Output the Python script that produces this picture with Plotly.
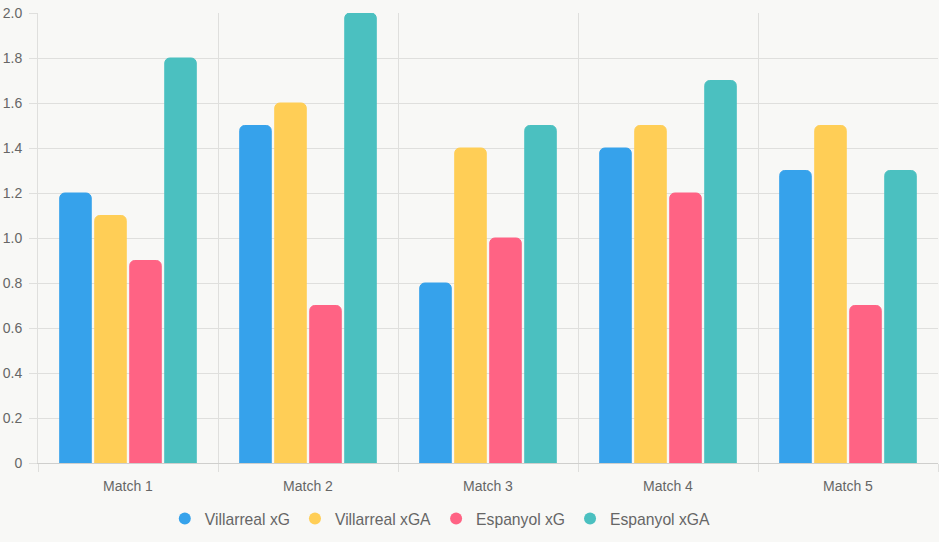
import plotly.graph_objects as go

categories = ["Match 1", "Match 2", "Match 3", "Match 4", "Match 5"]
villarreal_xg = [1.2, 1.5, 0.8, 1.4, 1.3]
villarreal_xga = [1.1, 1.6, 1.4, 1.5, 1.5]
espanyol_xg = [0.9, 0.7, 1.0, 1.2, 0.7]
espanyol_xga = [1.8, 2.0, 1.5, 1.7, 1.3]
series_names = ["Villarreal xG", "Villarreal xGA", "Espanyol xG", "Espanyol xGA"]
series_values = [villarreal_xg, villarreal_xga, espanyol_xg, espanyol_xga]
colors = ["#36A2EB", "#FFCE56", "#FF6384", "#4BC0C0"]
y_ticks = [0, 0.2, 0.4, 0.6, 0.8, 1.0, 1.2, 1.4, 1.6, 1.8, 2.0]
y_labels = ["0", "0.2", "0.4", "0.6", "0.8", "1.0", "1.2", "1.4", "1.6", "1.8", "2.0"]

bg = "#f8f8f6"
grid = "#dfdfdd"
font = "Liberation Sans, Arial, sans-serif"

fig = go.Figure()
for name, vals, c in zip(series_names, series_values, colors):
    fig.add_trace(go.Bar(
        x=categories, y=vals, name=name, showlegend=False, legendgroup=name,
        marker=dict(color=c, line=dict(color=c, width=1)),
        hovertemplate="%{x}<br>" + name + ": %{y}<extra></extra>",
    ))
# legend entries with circle symbols
for name, c in zip(series_names, colors):
    fig.add_trace(go.Scatter(
        x=[None], y=[None], mode="markers", name=name, legendgroup=name,
        marker=dict(symbol="circle", size=14, color=c),
        hoverinfo="skip",
    ))

fig.update_layout(
    width=939, height=542,
    margin=dict(l=38, r=1, t=13, b=79),
    paper_bgcolor=bg, plot_bgcolor=bg,
    barmode="group", bargap=0.222, bargroupgap=0.1,
    barcornerradius=5,
    font=dict(family=font, color="#666666", size=14),
    showlegend=True,
    legend=dict(orientation="h", x=0.447, xanchor="center", y=-0.124, yanchor="middle",
                font=dict(size=15.7, color="#666666"), itemsizing="constant",
                bgcolor="rgba(0,0,0,0)", tracegroupgap=0),
    xaxis=dict(
        type="category", tickson="boundaries", showgrid=True, gridcolor=grid, gridwidth=1,
        ticks="outside", ticklen=8, tickcolor=grid, ticklabelstandoff=10,
        showline=True, linecolor="#cfcfcd", linewidth=1,
        tickfont=dict(size=14, color="#666666"), fixedrange=True,
    ),
    yaxis=dict(
        range=[0, 2.0], tickvals=y_ticks, ticktext=y_labels,
        showgrid=True, gridcolor=grid, gridwidth=1,
        ticks="outside", ticklen=8, tickcolor=grid, ticklabelstandoff=4,
        showline=True, linecolor=grid, linewidth=1, zeroline=False,
        tickfont=dict(size=14, color="#666666"), fixedrange=True,
    ),
)

fig.write_html("out.html")
